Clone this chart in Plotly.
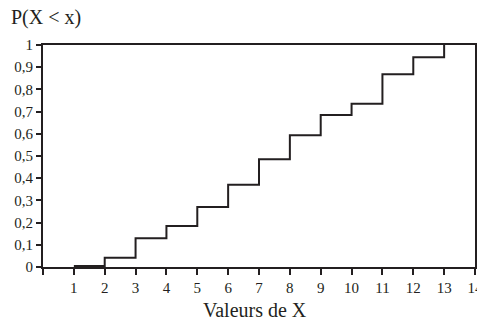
import plotly.graph_objects as go

x_values = [1, 2, 3, 4, 5, 6, 7, 8, 9, 10, 11, 12, 13]
cdf_values = [0.005, 0.042, 0.13, 0.185, 0.27, 0.371, 0.485, 0.594, 0.685, 0.735, 0.868, 0.945, 1.0]
x_tickvals = list(range(0, 15))
x_ticktext = [""] + [str(i) for i in range(1, 15)]
y_tickvals = [0, 0.1, 0.2, 0.3, 0.4, 0.5, 0.6, 0.7, 0.8, 0.9, 1]
y_ticktext = ["0", "0,1", "0,2", "0,3", "0,4", "0,5", "0,6", "0,7", "0,8", "0,9", "1"]

ink = "#231f20"
font = "Liberation Serif, Times New Roman, serif"

PW, PH = 432, 222

fig = go.Figure()
fig.add_trace(go.Scatter(
    x=x_values, y=cdf_values, mode="lines",
    line=dict(shape="hv", color=ink, width=2),
    showlegend=False, hoverinfo="skip", cliponaxis=False,
))

fig.update_layout(
    width=477, height=321,
    margin=dict(l=43, r=2, t=45, b=54),
    paper_bgcolor="white", plot_bgcolor="white",
    font=dict(family=font, color=ink, size=15),
    xaxis=dict(
        range=[0, 14], tickvals=x_tickvals, ticktext=x_ticktext,
        showgrid=False, zeroline=False, automargin=False,
        ticklabeloverflow="allow",
        showline=True, linecolor=ink, linewidth=2, mirror=True,
        ticks="outside", ticklen=6, tickwidth=2, tickcolor=ink,
        tickfont=dict(family=font, size=15, color=ink),
    ),
    yaxis=dict(
        range=[0, 1], tickvals=y_tickvals, ticktext=y_ticktext,
        showgrid=False, zeroline=False, automargin=False,
        showline=True, linecolor=ink, linewidth=2, mirror=True,
        ticks="outside", ticklen=5, tickwidth=2, tickcolor=ink,
        tickfont=dict(family=font, size=15, color=ink),
    ),
    annotations=[
        dict(
            text="P(X &lt; x)", xref="paper", yref="paper",
            x=(9 - 43) / PW, y=1 + 27 / PH,
            xanchor="left", yanchor="middle", showarrow=False,
            font=dict(family=font, size=20, color=ink),
        ),
        dict(
            text="Valeurs de X", xref="paper", yref="paper",
            x=(254.5 - 43) / PW, y=-43 / PH,
            xanchor="center", yanchor="middle", showarrow=False,
            font=dict(family=font, size=20, color=ink),
        ),
    ],
)

fig.write_html(
    "out.html",
    config={"displayModeBar": False, "staticPlot": True},
    post_script="document.body.style.margin='0';document.body.style.overflow='hidden';",
)
